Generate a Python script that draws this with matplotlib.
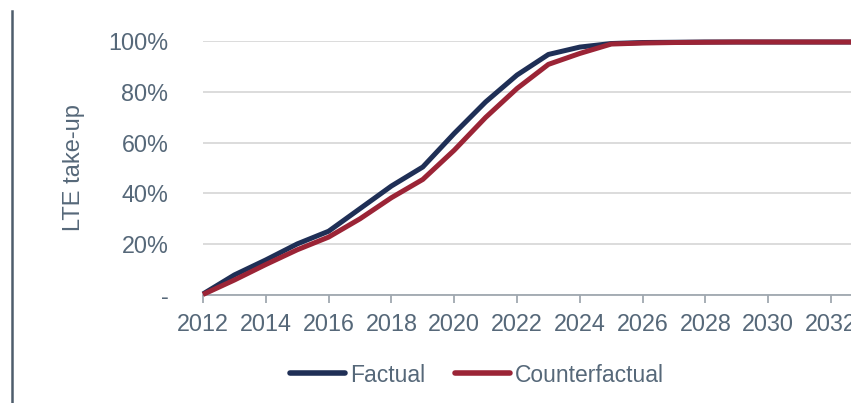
import matplotlib
matplotlib.use("Agg")
import matplotlib.pyplot as plt
from matplotlib.lines import Line2D
from matplotlib.ticker import FuncFormatter

years = list(range(2012, 2034))
factual = [0.4, 7.9, 13.8, 20.1, 25.1, 34.0, 42.9, 50.4, 63.6, 76.0, 86.6, 94.7,
           97.6, 99.0, 99.4, 99.5, 99.6, 99.6, 99.6, 99.6, 99.6, 99.6]
counterfactual = [0.2, 5.9, 12.0, 17.8, 22.8, 30.0, 38.3, 45.5, 57.0, 69.9, 81.3, 90.8,
                  95.1, 98.8, 99.2, 99.4, 99.5, 99.6, 99.6, 99.6, 99.6, 99.6]
series_names = ["Factual", "Counterfactual"]
yticks = [0, 20, 40, 60, 80, 100]
xticks = list(range(2012, 2033, 2))

NAVY = "#1f2f56"
RED = "#9b2436"
TXT = "#566879"
GRID = "#d9d9d9"
AX = "#a0a8b0"

plt.rcParams['font.family'] = ['Liberation Sans', 'DejaVu Sans']

W, H = 851, 403
fig = plt.figure(figsize=(W / 100, H / 100), dpi=100)
ax = fig.add_axes([203 / W, 1 - 295 / H, 1 - 203 / W, (295 - 41) / H])

ax.plot(years, factual, color=NAVY, lw=3.6, solid_capstyle='butt', clip_on=False, zorder=3)
ax.plot(years, counterfactual, color=RED, lw=3.6, solid_capstyle='butt', clip_on=False, zorder=4)

ax.set_xlim(2012, 2012 + (W - 203) / 31.4)
ax.set_ylim(0, 100)
ax.set_xticks(xticks)
ax.set_yticks(yticks)
ax.yaxis.set_major_formatter(FuncFormatter(lambda v, p: "-" if v == 0 else f"{int(v)}%"))
ax.grid(axis='y', color=GRID, lw=1.3)
ax.set_axisbelow(True)
for s in ['top', 'right', 'left']:
    ax.spines[s].set_visible(False)
ax.spines['bottom'].set_color(AX)
ax.spines['bottom'].set_linewidth(1.3)
ax.tick_params(axis='x', colors=AX, length=6, width=1.3, labelcolor=TXT, labelsize=16.8, pad=7)
ax.tick_params(axis='y', length=0, labelcolor=TXT, labelsize=16.8, pad=25)
ax.set_ylabel("LTE take-up", color=TXT, fontsize=17, labelpad=17)

handles = [Line2D([], [], color=NAVY, lw=4, solid_capstyle='round'),
           Line2D([], [], color=RED, lw=4, solid_capstyle='round')]
leg = fig.legend(handles, series_names, loc='center', bbox_to_anchor=(477 / W, 1 - 375 / H),
                 ncol=2, frameon=False, fontsize=16.5, handlelength=2.4, handletextpad=0.2,
                 columnspacing=1.3, borderaxespad=0)
for t in leg.get_texts():
    t.set_color(TXT)

fig.add_artist(Line2D([12 / W, 12 / W], [0, 1 - 11 / H], transform=fig.transFigure,
                      color="#4e5d6c", lw=1.8))

fig.savefig("out.png", dpi=100)
